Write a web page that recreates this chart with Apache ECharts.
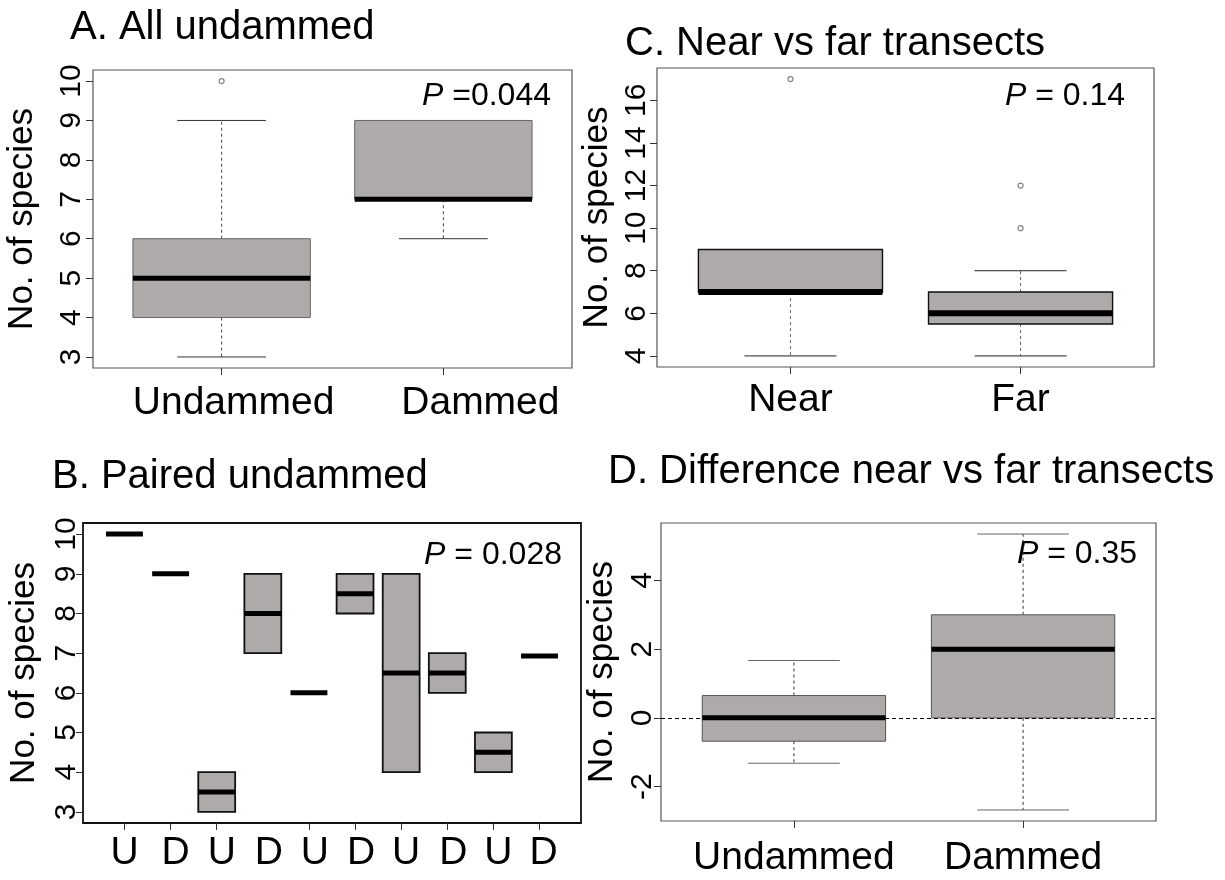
<!DOCTYPE html>
<html>
<head>
<meta charset="utf-8">
<script src="https://cdn.jsdelivr.net/npm/echarts@6/dist/echarts.min.js"></script>
<style>
html, body { margin: 0; padding: 0; background: #ffffff; }
#chart { width: 1225px; height: 880px; }
</style>
</head>
<body>
<div id="chart"></div>
<script>
// ---------------- DATA ----------------
// Each box: [lower whisker, Q1, median, Q3, upper whisker]
// Outliers: [category position (1-based), value]

// Panel A
const titleA = 'A. All undammed';
const catsA = ['Undammed', 'Dammed'];
const boxesA = [[3, 4, 5, 6, 9], [6, 7, 7, 9, 9]];
const outliersA = [[1, 10]];
const yTicksA = [3, 4, 5, 6, 7, 8, 9, 10];
const pA = ' =0.044';

// Panel B
const titleB = 'B. Paired undammed';
const catsB = ['U', 'D', 'U', 'D', 'U', 'D', 'U', 'D', 'U', 'D'];
const boxesB = [
  [10, 10, 10, 10, 10],
  [9, 9, 9, 9, 9],
  [3, 3, 3.5, 4, 4],
  [7, 7, 8, 9, 9],
  [6, 6, 6, 6, 6],
  [8, 8, 8.5, 9, 9],
  [4, 4, 6.5, 9, 9],
  [6, 6, 6.5, 7, 7],
  [4, 4, 4.5, 5, 5],
  [6.93, 6.93, 6.93, 6.93, 6.93]
];
const outliersB = [];
const yTicksB = [3, 4, 5, 6, 7, 8, 9, 10];
const xTickPositionsB = [1, 2, 3, 5, 6, 7, 8, 9, 10];
const pB = ' = 0.028';

// Panel C
const titleC = 'C. Near vs far transects';
const catsC = ['Near', 'Far'];
const boxesC = [[4, 7, 7, 9, 9], [4, 5.5, 6, 7, 8]];
const outliersC = [[1, 17], [2, 12], [2, 10]];
const yTicksC = [4, 6, 8, 10, 12, 14, 16];
const pC = ' = 0.14';

// Panel D
const titleD = 'D. Difference near vs far transects';
const catsD = ['Undammed', 'Dammed'];
const boxesD = [[-1.32, -0.68, 0, 0.65, 1.67], [-2.68, 0, 2, 3, 5.35]];
const outliersD = [];
const yTicksD = [-2, 0, 2, 4];
const refLineD = [0];
const pD = ' = 0.35';

const yName = 'No. of species';

// ---------------- LAYOUT / STYLE ----------------
const FONT = "'Liberation Sans', Arial, Helvetica, sans-serif";
const BOX_FILL = '#adaaa9';
const X_LABEL_SIZE = 39;
const Y_LABEL_SIZE = 30;

const panels = [
  { title: titleA, cats: catsA, boxes: boxesA, outliers: outliersA, yTicks: yTicksA, xTicks: null, p: pA, ref: null,
    grid: { left: 93, top: 70, width: 479, height: 298 },
    frame: { color: '#555', width: 1.2 }, boxStroke: { color: '#666', width: 1 },
    whisker: '#444', cap: '#333', median: 5, labelShift: [12, 37],
    titlePos: [70, 8], pPos: [551, 80], yLabelMargin: 6, yNameGap: 53, xLabelMargin: 16 },
  { title: titleB, cats: catsB, boxes: boxesB, outliers: outliersB, yTicks: yTicksB, xTicks: xTickPositionsB, p: pB, ref: null,
    grid: { left: 83, top: 523, width: 498, height: 300 },
    frame: { color: '#111', width: 1.8 }, boxStroke: { color: '#111', width: 1.8 },
    whisker: '#222', cap: '#222', median: 5, labelShift: [0, 5, 5, 6, 6, 6, 5, 6, 5, 4],
    titlePos: [52, 457], pPos: [562, 539], yLabelMargin: 1, yNameGap: 41, xLabelMargin: 11 },
  { title: titleC, cats: catsC, boxes: boxesC, outliers: outliersC, yTicks: yTicksC, xTicks: null, p: pC, ref: null,
    grid: { left: 657, top: 68, width: 497, height: 299 },
    frame: { color: '#555', width: 1.2 }, boxStroke: { color: '#111', width: 1.4 },
    whisker: '#666', cap: '#222', median: 6, labelShift: null,
    titlePos: [625, 24], pPos: [1125, 80], yLabelMargin: 5, yNameGap: 42, xLabelMargin: 14 },
  { title: titleD, cats: catsD, boxes: boxesD, outliers: outliersD, yTicks: yTicksD, xTicks: null, p: pD, ref: refLineD,
    grid: { left: 661, top: 523, width: 495, height: 298 },
    frame: { color: '#555', width: 1.2 }, boxStroke: { color: '#555', width: 1 },
    whisker: '#333', cap: '#666', median: 5, labelShift: null,
    titlePos: [608, 452], pPos: [1137, 538], yLabelMargin: 3, yNameGap: 41, xLabelMargin: 18 }
];

// R-style axis range: data range extended by 4% on each side
function rRange(lo, hi) { const d = (hi - lo) * 0.04; return [lo - d, hi + d]; }

function makeRender(p) {
  return function (params, api) {
    const x = api.value(0);
    const lo = api.value(1), q1 = api.value(2), md = api.value(3), q3 = api.value(4), hi = api.value(5);
    const unit = api.size([1, 0])[0];
    const half = unit * 0.4, capHalf = unit * 0.2;
    const cx = api.coord([x, md])[0];
    const Y = v => api.coord([x, v])[1];
    const children = [];
    const dash = { stroke: p.whisker, lineWidth: 1, lineDash: [3, 3], fill: null };
    const capStyle = { stroke: p.cap, lineWidth: 1, fill: null };
    if (lo < q1) {
      children.push({ type: 'line', shape: { x1: cx, y1: Y(q1), x2: cx, y2: Y(lo) }, style: dash });
      children.push({ type: 'line', shape: { x1: cx - capHalf, y1: Y(lo), x2: cx + capHalf, y2: Y(lo) }, style: capStyle });
    }
    if (hi > q3) {
      children.push({ type: 'line', shape: { x1: cx, y1: Y(q3), x2: cx, y2: Y(hi) }, style: dash });
      children.push({ type: 'line', shape: { x1: cx - capHalf, y1: Y(hi), x2: cx + capHalf, y2: Y(hi) }, style: capStyle });
    }
    if (q3 > q1) {
      children.push({ type: 'rect', shape: { x: cx - half, y: Y(q3), width: 2 * half, height: Y(q1) - Y(q3) },
        style: { fill: BOX_FILL, stroke: p.boxStroke.color, lineWidth: p.boxStroke.width } });
    }
    children.push({ type: 'line', shape: { x1: cx - half, y1: Y(md), x2: cx + half, y2: Y(md) },
      style: { stroke: '#000', lineWidth: p.median, fill: null } });
    return { type: 'group', children: children };
  };
}

const grids = [], xAxes = [], yAxes = [], series = [], graphics = [];

panels.forEach(function (p, i) {
  const n = p.cats.length;
  const positions = p.cats.map((c, k) => k + 1);
  const allVals = [];
  p.boxes.forEach(b => b.forEach(v => allVals.push(v)));
  p.outliers.forEach(o => allVals.push(o[1]));
  const yr = rRange(Math.min.apply(null, allVals), Math.max.apply(null, allVals));
  const xr = [0.5 - 0.04 * n, n + 0.5 + 0.04 * n];

  grids.push(Object.assign({ show: true, borderColor: p.frame.color, borderWidth: p.frame.width,
    backgroundColor: 'rgba(0,0,0,0)', containLabel: false }, p.grid));

  const rich = {};
  if (p.labelShift) {
    p.labelShift.forEach((s, k) => {
      rich['s' + k] = { fontSize: X_LABEL_SIZE, color: '#000', fontFamily: FONT, padding: [0, 0, 0, 2 * s] };
    });
  }

  xAxes.push({
    gridIndex: i, type: 'value', min: xr[0], max: xr[1],
    axisLine: { show: false, onZero: false },
    splitLine: { show: false },
    axisTick: { show: true, length: 7, customValues: p.xTicks || positions, lineStyle: { color: '#333', width: 1 } },
    axisLabel: { show: true, customValues: positions, margin: p.xLabelMargin,
      formatter: function (v) {
        const k = Math.round(v) - 1;
        const name = p.cats[k] || '';
        return p.labelShift ? '{s' + k + '|' + name + '}' : name;
      },
      rich: rich,
      fontSize: X_LABEL_SIZE, color: '#000', fontFamily: FONT }
  });

  yAxes.push({
    gridIndex: i, type: 'value', min: yr[0], max: yr[1],
    axisLine: { show: false, onZero: false },
    splitLine: { show: false },
    axisTick: { show: true, length: 7, customValues: p.yTicks, lineStyle: { color: '#333', width: 1 } },
    axisLabel: { show: true, customValues: p.yTicks, rotate: 90, margin: p.yLabelMargin,
      formatter: v => String(v), fontSize: Y_LABEL_SIZE, color: '#000', fontFamily: FONT },
    name: yName, nameLocation: 'middle', nameRotate: 90, nameGap: p.yNameGap,
    nameTextStyle: { fontSize: 35, color: '#000', fontFamily: FONT }
  });

  const s = {
    type: 'custom', xAxisIndex: i, yAxisIndex: i, silent: true, z: 2, clip: false,
    data: p.boxes.map((b, k) => [k + 1].concat(b)),
    encode: { x: 0, y: [1, 2, 3, 4, 5] },
    renderItem: makeRender(p)
  };
  if (p.ref) {
    s.markLine = { silent: true, symbol: ['none', 'none'], label: { show: false }, animation: false,
      lineStyle: { type: [4, 3], color: '#000', width: 1 },
      data: p.ref.map(v => ({ yAxis: v })) };
  }
  series.push(s);

  if (p.outliers.length) {
    series.push({ type: 'scatter', xAxisIndex: i, yAxisIndex: i, silent: true, z: 4,
      data: p.outliers, symbol: 'circle', symbolSize: 5,
      itemStyle: { color: '#ffffff', borderColor: '#666', borderWidth: 1.2 } });
  }

  graphics.push({ type: 'text', x: p.titlePos[0], y: p.titlePos[1], silent: true,
    style: { text: p.title, fontSize: 40, fontFamily: FONT, fill: '#000', align: 'left', verticalAlign: 'top' } });
  graphics.push({ type: 'text', x: p.pPos[0], y: p.pPos[1], silent: true,
    style: { text: '{i|P}' + p.p, fontSize: 32, fontFamily: FONT, fill: '#000', align: 'right', verticalAlign: 'top',
      rich: { i: { fontStyle: 'italic', fontSize: 32, fontFamily: FONT, fill: '#000' } } } });
});

const chart = echarts.init(document.getElementById('chart'), null, { renderer: 'canvas' });
chart.setOption({
  animation: false,
  backgroundColor: '#ffffff',
  grid: grids,
  xAxis: xAxes,
  yAxis: yAxes,
  series: series,
  graphic: graphics
});
</script>
</body>
</html>
